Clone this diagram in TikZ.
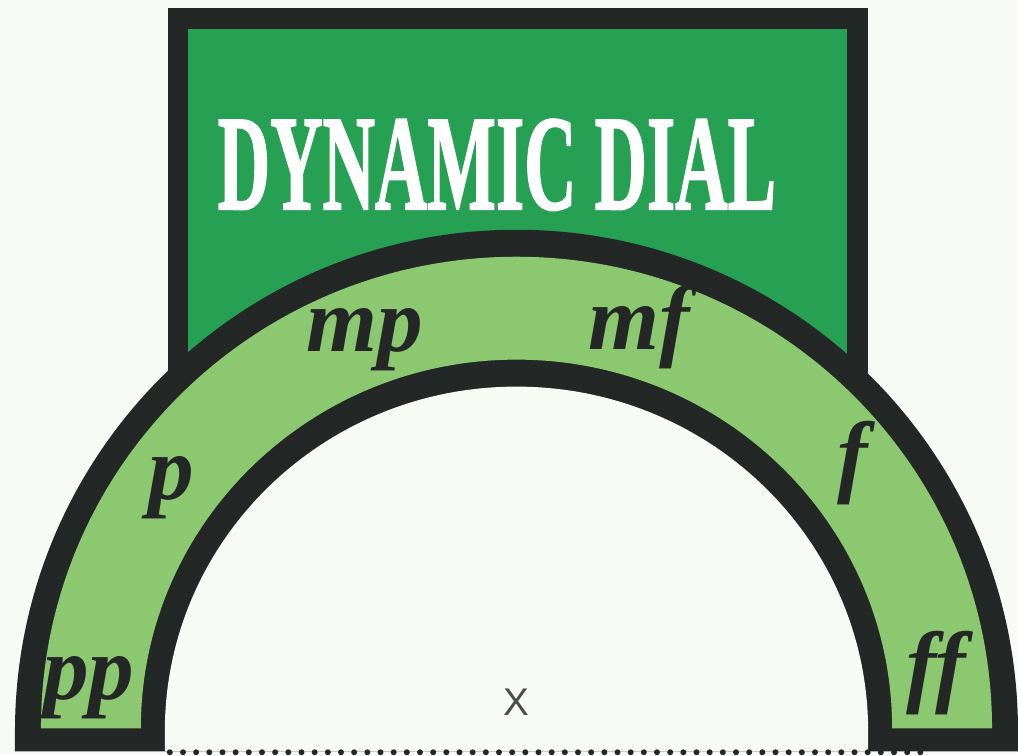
\documentclass[tikz,border=0pt]{standalone}
\usepackage{fontspec}
\usepackage{graphicx}
\newfontfamily\dynfont{Liberation Serif}
\newfontfamily\markfont{Liberation Sans}
\newfontfamily\titlefont{Liberation Serif}[BoldFeatures={FakeBold=1.5}]
\definecolor{inkgrey}{RGB}{35,40,38}
\definecolor{boardgreen}{RGB}{38,160,82}
\definecolor{bandgreen}{RGB}{140,200,112}
\definecolor{paperwhite}{RGB}{248,250,246}
\begin{document}
\begin{tikzpicture}[x=0.2mm,y=0.2mm,
    ink/.style={fill=inkgrey},
    dyn/.style={anchor=base,inner sep=0pt,text=inkgrey,font=\dynfont\bfseries\itshape\fontsize{52}{52}\selectfont},
    title/.style={inner sep=0pt,text=white,font=\titlefont\bfseries}]
        % paper
        \fill[paperwhite] (-517,-23) rectangle (501,732);
        % title board
        \fill[ink] (-349,300) rectangle (352,724);
        \fill[boardgreen] (-329,300) rectangle (331,703);
        \node[title] (heading) at (-19.5,567) {\resizebox{11.18cm}{1.8cm}{DYNAMIC DIAL}};
        % dial
        \fill[ink] (502,-20) -- (502,0) arc[start angle=0,end angle=180,radius=502] -- (-502,-20) -- cycle;
        \fill[bandgreen] (476,3) arc[start angle=0,end angle=180,x radius=476,y radius=472]
            -- (-376,3) arc[start angle=180,end angle=0,x radius=376,y radius=369] -- cycle;
        \fill[paperwhite] (352,-20) -- (352,0) arc[start angle=0,end angle=180,x radius=352,y radius=345] -- (-352,-20) -- cycle;
        % dynamics
        \node[dyn] (pp) at (-428,32) {pp};
        \node[dyn] (p) at (-346,232) {p};
        \node[dyn] (mp) at (-152,380) {mp};
        \node[dyn] (mf) at (123,382) {mf};
        \node[dyn] (f) at (337,246) {f};
        \node[dyn] (ff) at (420,36) {ff};
        % centre mark
        \node[text=black!70,font=\markfont\fontsize{22}{22}\selectfont] (centre) at (0,29) {X};
        \draw[inkgrey,line width=3.4pt,line cap=round,dash pattern=on 0pt off 7.5pt] (-347,-21) -- (413,-21);
\end{tikzpicture}
\end{document}
